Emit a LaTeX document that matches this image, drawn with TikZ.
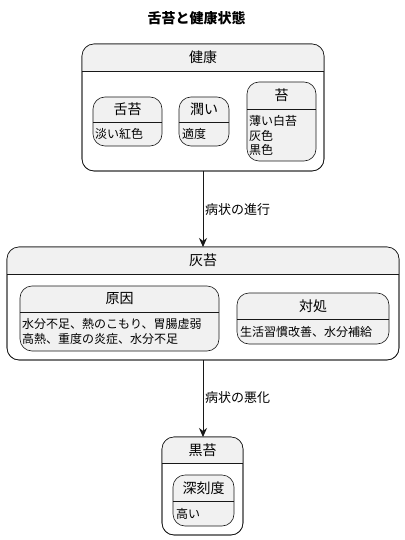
\documentclass[tikz,border=0pt]{standalone}
\usepackage{fontspec}
\setmainfont{Noto Sans CJK JP}
\usetikzlibrary{arrows.meta}
\definecolor{bd}{HTML}{181818}
\definecolor{hdr}{HTML}{F1F1F1}
\tikzset{
  boxshape/.style={rectangle, rounded corners=12pt, draw=bd, line width=0.6pt, inner sep=0pt, outer sep=0pt},
  outerbox/.style={boxshape, fill=white},
  innerbox/.style={boxshape, fill=hdr},
  hdrtext/.style={inner sep=0pt, font=\fontsize{14}{16}\selectfont},
  bodytext/.style={inner sep=0pt, anchor=west, align=left, font=\fontsize{12}{14.5}\selectfont},
  edgelabel/.style={inner sep=0pt, anchor=west, font=\fontsize{13}{15}\selectfont},
  titletext/.style={inner sep=0pt, font=\fontsize{14}{16}\selectfont\bfseries},
  conn/.style={draw=bd, line width=0.8pt, -{Stealth[length=9pt,width=8pt,inset=3pt]}},
  sepline/.style={draw=bd, line width=0.6pt}
}
\newcommand{\hdrfill}[2]{%
  \begin{scope}
    \clip[rounded corners=12pt] (#1.north west) rectangle (#1.south east);
    \fill[hdr] (#1.north west) rectangle ([yshift=-#2]#1.north east);
  \end{scope}
  \draw[sepline] ([yshift=-#2]#1.north west) -- ([yshift=-#2]#1.north east);
  \draw[sepline, rounded corners=12pt] (#1.north west) rectangle (#1.south east);
}
\begin{document}
\begin{tikzpicture}[x=1pt, y=-1pt]
\useasboundingbox (0,0) rectangle (404,540);
\fill[white] (0,0) rectangle (404,540);

\node[titletext] (title) at (196.5,18) {舌苔と健康状態};

% 健康
\node[outerbox, minimum width=242pt, minimum height=127pt] (kenko) at (203,107.5) {};
\hdrfill{kenko}{27pt}
\node[hdrtext] (kenkoT) at (203,57.5) {健康};

\node[innerbox, minimum width=69pt, minimum height=49pt] (zetsutai) at (127.5,121.5) {};
\draw[sepline] ([yshift=-25pt]zetsutai.north west) -- ([yshift=-25pt]zetsutai.north east);
\node[hdrtext] (zetsutaiT) at (127.5,109.5) {舌苔};
\node[bodytext] (zetsutaiB) at (95,134) {淡い紅色};

\node[innerbox, minimum width=50pt, minimum height=49pt] (uruoi) at (204,121.5) {};
\draw[sepline] ([yshift=-25pt]uruoi.north west) -- ([yshift=-25pt]uruoi.north east);
\node[hdrtext] (uruoiT) at (204,109.5) {潤い};
\node[bodytext] (uruoiB) at (182,134) {適度};

\node[innerbox, minimum width=69pt, minimum height=79pt] (koke) at (281.5,121.5) {};
\draw[sepline] ([yshift=-27pt]koke.north west) -- ([yshift=-27pt]koke.north east);
\node[hdrtext] (kokeT) at (281.5,95.5) {苔};
\node[bodytext] (kokeB) at (249,135.5) {薄い白苔\\灰色\\黒色};

% 灰苔
\node[outerbox, minimum width=392pt, minimum height=113pt] (haitai) at (203,303.5) {};
\hdrfill{haitai}{27pt}
\node[hdrtext] (haitaiT) at (203,260.5) {灰苔};

\node[innerbox, minimum width=199pt, minimum height=65pt] (gen) at (119.5,318.5) {};
\draw[sepline] ([yshift=-26pt]gen.north west) -- ([yshift=-26pt]gen.north east);
\node[hdrtext] (genT) at (119.5,299) {原因};
\node[bodytext] (genB) at (22,331.5) {水分不足、熱のこもり、胃腸虚弱\\高熱、重度の炎症、水分不足};

\node[innerbox, minimum width=152pt, minimum height=51pt] (taisho) at (313,318.5) {};
\draw[sepline] ([yshift=-26pt]taisho.north west) -- ([yshift=-26pt]taisho.north east);
\node[hdrtext] (taishoT) at (313,306) {対処};
\node[bodytext] (taishoB) at (240,331.5) {生活習慣改善、水分補給};

% 黒苔
\node[outerbox, minimum width=81pt, minimum height=98pt] (kokutai) at (202.5,486) {};
\hdrfill{kokutai}{26pt}
\node[hdrtext] (kokutaiT) at (202.5,450) {黒苔};

\node[innerbox, minimum width=61pt, minimum height=51pt] (shinkoku) at (203.5,500.5) {};
\draw[sepline] ([yshift=-26pt]shinkoku.north west) -- ([yshift=-26pt]shinkoku.north east);
\node[hdrtext] (shinkokuT) at (203.5,488) {深刻度};
\node[bodytext] (shinkokuB) at (176,513.5) {高い};

% connectors
\draw[conn] (kenko.south) -- (haitai.north -| kenko.south);
\draw[conn] (haitai.south -| kenko.south) -- (kokutai.north -| kenko.south);
\node[edgelabel] (l1) at (205,210) {病状の進行};
\node[edgelabel] (l2) at (205,398) {病状の悪化};
\end{tikzpicture}
\end{document}
